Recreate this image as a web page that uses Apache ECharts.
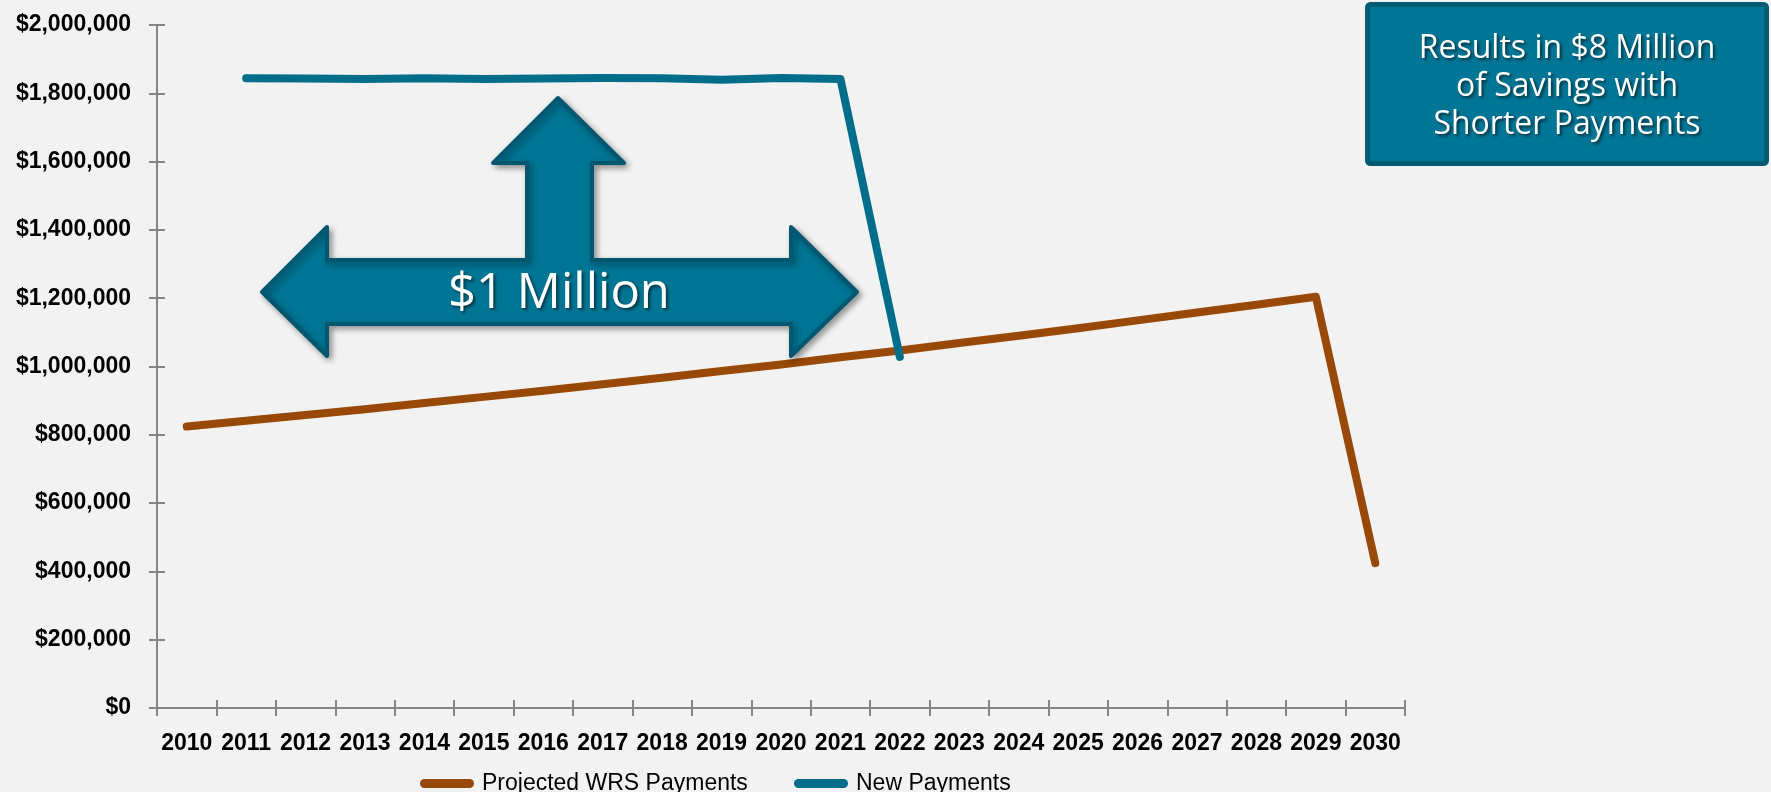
<!DOCTYPE html>
<html>
<head>
<meta charset="utf-8">
<script src="https://cdn.jsdelivr.net/npm/echarts@6/dist/echarts.min.js"></script>
<style>
  html, body { margin: 0; padding: 0; background: #F2F2F2; }
  #chart { width: 1771px; height: 792px; }
</style>
</head>
<body>
<div id="chart"></div>
<script>
// Fiscal years on the horizontal axis
const years = ['2010','2011','2012','2013','2014','2015','2016','2017','2018','2019','2020',
               '2021','2022','2023','2024','2025','2026','2027','2028','2029','2030'];

// Annual payments under the current WRS schedule
const projectedWRS = [824000, 841000, 858000, 875000, 893000, 911000, 929000, 948000, 967000, 987000,
                      1006000, 1027000, 1047000, 1069000, 1090000, 1112000, 1135000, 1158000, 1181000,
                      1204000, 424000];

// Annual payments under the shorter schedule
const newPayments = [null, 1844000, 1843000, 1842000, 1844000, 1842000, 1843000, 1845000, 1844000,
                     1840000, 1845000, 1842000, 1028000, null, null, null, null, null, null, null, null];

const seriesNames = ['Projected WRS Payments', 'New Payments'];
const calloutText = ['Results in $8 Million', 'of Savings with', 'Shorter Payments'];
const arrowText = '$1 Million';

const ORANGE = '#984807';
const TEAL = '#006E8A';
const AXIS_GRAY = '#868686';
const LABEL_FONT = 'Liberation Sans';
const SHAPE_FONT = 'Open Sans';

function money(v) {
  return '$' + String(Math.round(v)).replace(/\B(?=(\d{3})+(?!\d))/g, ',');
}

const legendIcon = 'path://M5,0H55A5,5 0 0 1 55,10H5A5,5 0 0 1 5,0Z';
const legendBase = {
  top: 767,
  itemWidth: 60,
  itemHeight: 9,
  icon: legendIcon,
  itemGap: 0,
  textStyle: { fontFamily: LABEL_FONT, fontSize: 23, color: '#000' }
};

const chart = echarts.init(document.getElementById('chart'), null, { renderer: 'canvas' });

const option = {
  backgroundColor: '#F2F2F2',
  animation: false,
  grid: { left: 157, right: 366, top: 25, bottom: 84 },
  legend: [
    Object.assign({ left: 415, data: [seriesNames[0]] }, legendBase),
    Object.assign({ left: 789, data: [seriesNames[1]] }, legendBase)
  ],
  xAxis: [
    {
      type: 'category',
      data: years,
      boundaryGap: true,
      axisLine: { show: true, lineStyle: { color: AXIS_GRAY, width: 2 } },
      axisTick: { show: true, inside: false, length: 8, lineStyle: { color: AXIS_GRAY, width: 2 } },
      axisLabel: { margin: 24, color: '#000', fontFamily: LABEL_FONT, fontWeight: 'bold', fontSize: 23, interval: 0 },
      splitLine: { show: false }
    },
    {
      // inner half of the crossing tick marks
      type: 'category',
      data: years,
      position: 'bottom',
      boundaryGap: true,
      axisLine: { show: false },
      axisTick: { show: true, inside: true, length: 8, lineStyle: { color: AXIS_GRAY, width: 2 } },
      axisLabel: { show: false },
      splitLine: { show: false }
    }
  ],
  yAxis: [
    {
      type: 'value',
      min: 0,
      max: 2000000,
      interval: 200000,
      axisLine: { show: true, lineStyle: { color: AXIS_GRAY, width: 2 } },
      axisTick: { show: true, inside: false, length: 8, lineStyle: { color: AXIS_GRAY, width: 2 } },
      axisLabel: { margin: 26, color: '#000', fontFamily: LABEL_FONT, fontWeight: 'bold', fontSize: 23, formatter: money },
      splitLine: { show: false }
    },
    {
      type: 'value',
      position: 'left',
      min: 0,
      max: 2000000,
      interval: 200000,
      axisLine: { show: false },
      axisTick: { show: true, inside: true, length: 8, lineStyle: { color: AXIS_GRAY, width: 2 } },
      axisLabel: { show: false },
      splitLine: { show: false }
    }
  ],
  series: [
    {
      name: seriesNames[0],
      type: 'line',
      data: projectedWRS,
      showSymbol: false,
      symbol: 'none',
      color: ORANGE,
      lineStyle: { color: ORANGE, width: 8, cap: 'round', join: 'round' },
      z: 3
    },
    {
      name: seriesNames[1],
      type: 'line',
      data: newPayments,
      showSymbol: false,
      symbol: 'none',
      color: TEAL,
      lineStyle: { color: TEAL, width: 8, cap: 'round', join: 'round' },
      z: 4
    }
  ],
  graphic: [
    {
      // Double-headed arrow with an upward stem
      type: 'polygon',
      z: 100,
      shape: {
        points: [
          [262, 292], [327, 227], [327, 260], [527, 260], [527, 163], [493, 163],
          [558, 98], [624, 163], [592, 163], [592, 260], [791, 260], [791, 227],
          [857, 292], [791, 356], [791, 324], [327, 324], [327, 356]
        ]
      },
      style: {
        fill: '#007594',
        stroke: '#00576F',
        lineWidth: 4,
        lineJoin: 'round',
        shadowBlur: 6,
        shadowOffsetX: 3,
        shadowOffsetY: 3,
        shadowColor: 'rgba(0,0,0,0.35)'
      }
    },
    {
      type: 'text',
      z: 101,
      x: 559,
      y: 294,
      style: {
        text: arrowText,
        fill: '#FFFFFF',
        font: '49px "' + SHAPE_FONT + '"',
        align: 'center',
        verticalAlign: 'middle',
        textShadowColor: 'rgba(0,0,0,0.55)',
        textShadowBlur: 3,
        textShadowOffsetX: 2,
        textShadowOffsetY: 2
      }
    },
    {
      // Savings callout box
      type: 'rect',
      z: 100,
      shape: { x: 1367.5, y: 4.5, width: 399, height: 159, r: 3 },
      style: { fill: '#007696', stroke: '#005B73', lineWidth: 5 }
    },
    {
      type: 'text',
      z: 101,
      x: 1567,
      y: 87,
      style: {
        text: calloutText.join('\n'),
        fill: '#FFFFFF',
        font: '32px "' + SHAPE_FONT + '"',
        lineHeight: 38,
        align: 'center',
        verticalAlign: 'middle',
        textShadowColor: 'rgba(0,0,0,0.6)',
        textShadowBlur: 3,
        textShadowOffsetX: 2,
        textShadowOffsetY: 2
      }
    }
  ]
};

chart.setOption(option);
</script>
</body>
</html>
